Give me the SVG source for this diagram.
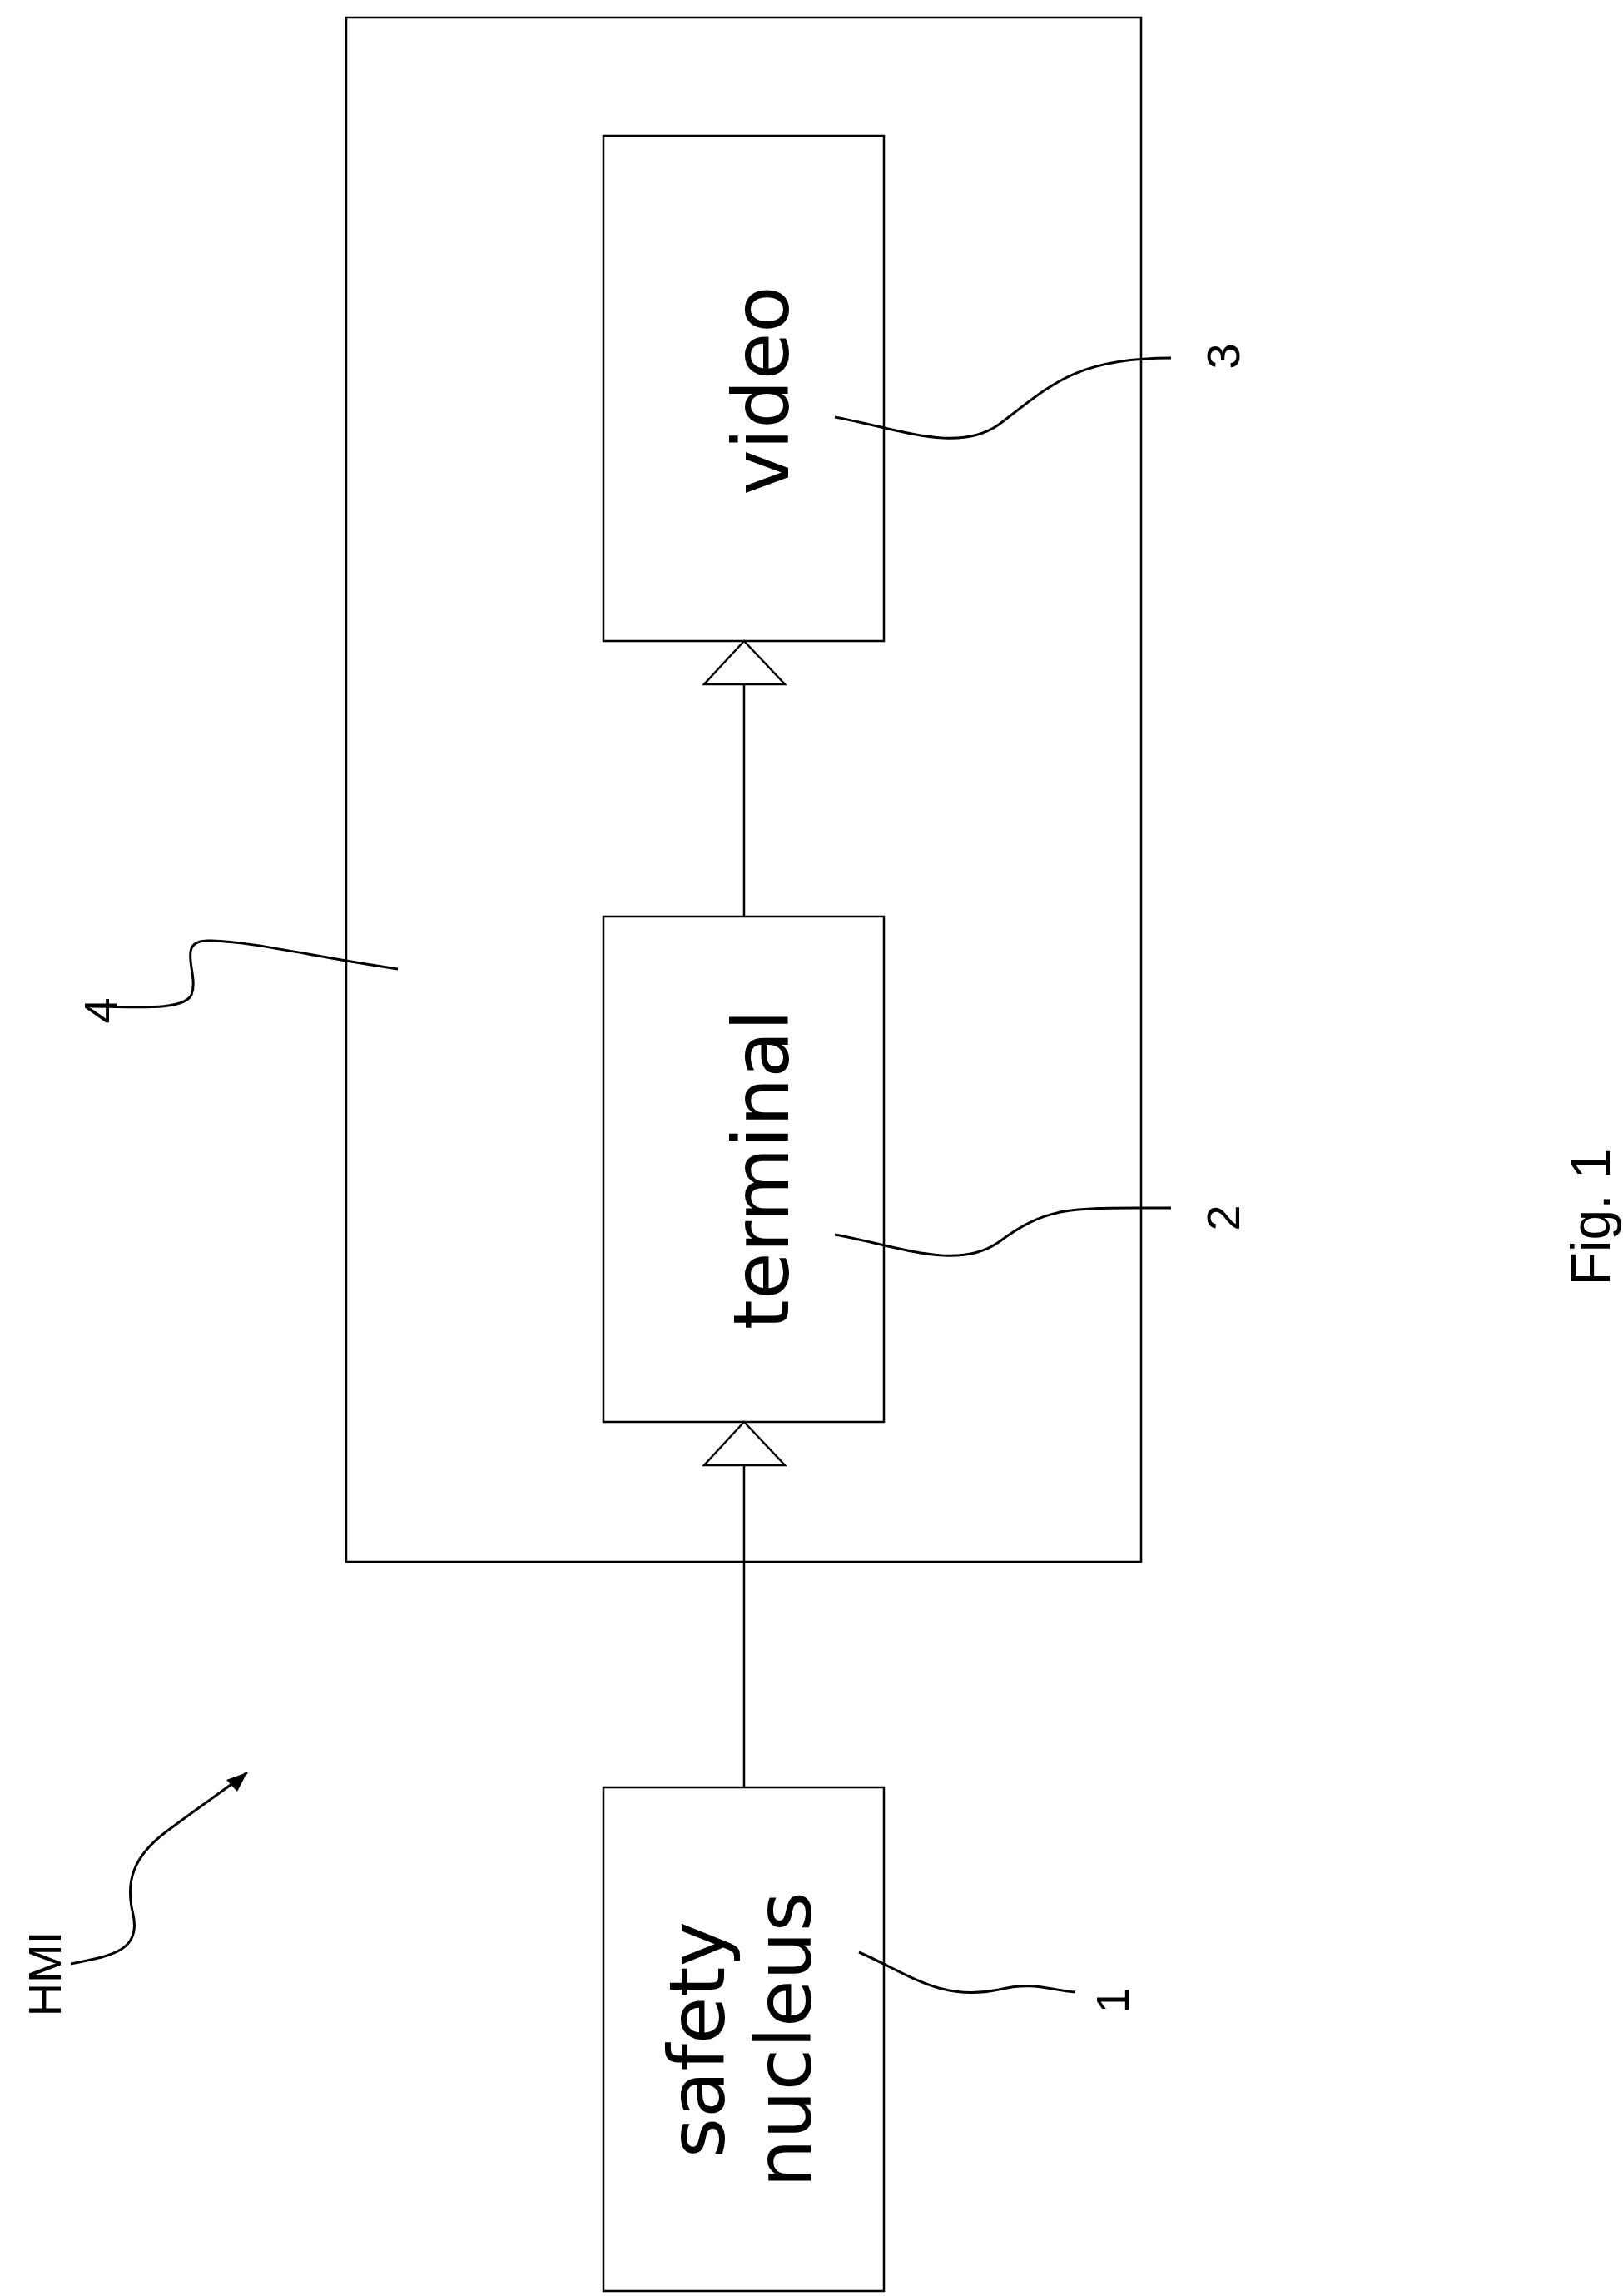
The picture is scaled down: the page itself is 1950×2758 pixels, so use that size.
<svg xmlns="http://www.w3.org/2000/svg" width="1950" height="2758" viewBox="0 0 1950 2758">
<style>
.b{fill:none;stroke:#000;stroke-width:2.5}
.l{fill:none;stroke:#000;stroke-width:3}
.t{font-family:"DejaVu Sans",sans-serif;font-size:92px;text-anchor:middle;dominant-baseline:central}
.n{font-family:"Liberation Sans",sans-serif;font-size:56px;text-anchor:middle;dominant-baseline:central}
</style>
<rect width="1950" height="2758" fill="#fff"/>
<g id="hmi4"><rect class="b" x="416" y="21" width="955" height="1855"/></g>
<g id="video"><rect class="b" x="725" y="163" width="337" height="607"/>
<text class="t" transform="translate(915,469) rotate(-90)">video</text></g>
<g id="terminal"><rect class="b" x="725" y="1101" width="337" height="607"/>
<text class="t" transform="translate(915,1405) rotate(-90)">terminal</text></g>
<g id="safety"><rect class="b" x="725" y="2147" width="337" height="605"/>
<text class="t" transform="translate(890,2450) rotate(-90)"><tspan x="0" dy="-52">safety</tspan><tspan x="0" dy="104">nucleus</tspan></text></g>
<g id="connectors">
<line class="b" x1="894" y1="2147" x2="894" y2="1760"/>
<polygon class="b" points="894,1708 846,1760 943,1760"/>
<line class="b" x1="894" y1="1101" x2="894" y2="822"/>
<polygon class="b" points="894,770 846,822 943,822"/>
<path class="l" d="M1003,501 C1080,515 1150,545 1200,510 C1260,465 1290,430 1407,430"/>
<path class="l" d="M1003,1483 C1080,1497 1150,1527 1200,1492 C1260,1447 1290,1451 1407,1451"/>
<path class="l" d="M1032,2345 C1090,2370 1130,2405 1200,2390 C1240,2380 1260,2390 1292,2393"/>
<path class="l" d="M478,1164 C380,1150 300,1130 250,1130 C210,1130 240,1170 230,1195 C220,1215 160,1209 110,1209"/>
<path class="l" d="M85,2359 C130,2350 170,2345 160,2300 C150,2260 160,2230 200,2200 C240,2170 270,2150 297,2129"/>
<polygon points="297,2129 272,2138 285,2152" fill="#000"/>
</g>
<g id="labels">
<text class="n" transform="translate(1469,428) rotate(-90)">3</text>
<text class="n" transform="translate(1469,1463) rotate(-90)">2</text>
<text class="n" transform="translate(1336,2403) rotate(-90)">1</text>
<text class="n" transform="translate(120,1214) rotate(-90)">4</text>
<text class="n" transform="translate(53,2371) rotate(-90)">HMI</text>
<text class="n" style="font-size:66px" transform="translate(1911,1462) rotate(-90)">Fig. 1</text>
</g>
</svg>
